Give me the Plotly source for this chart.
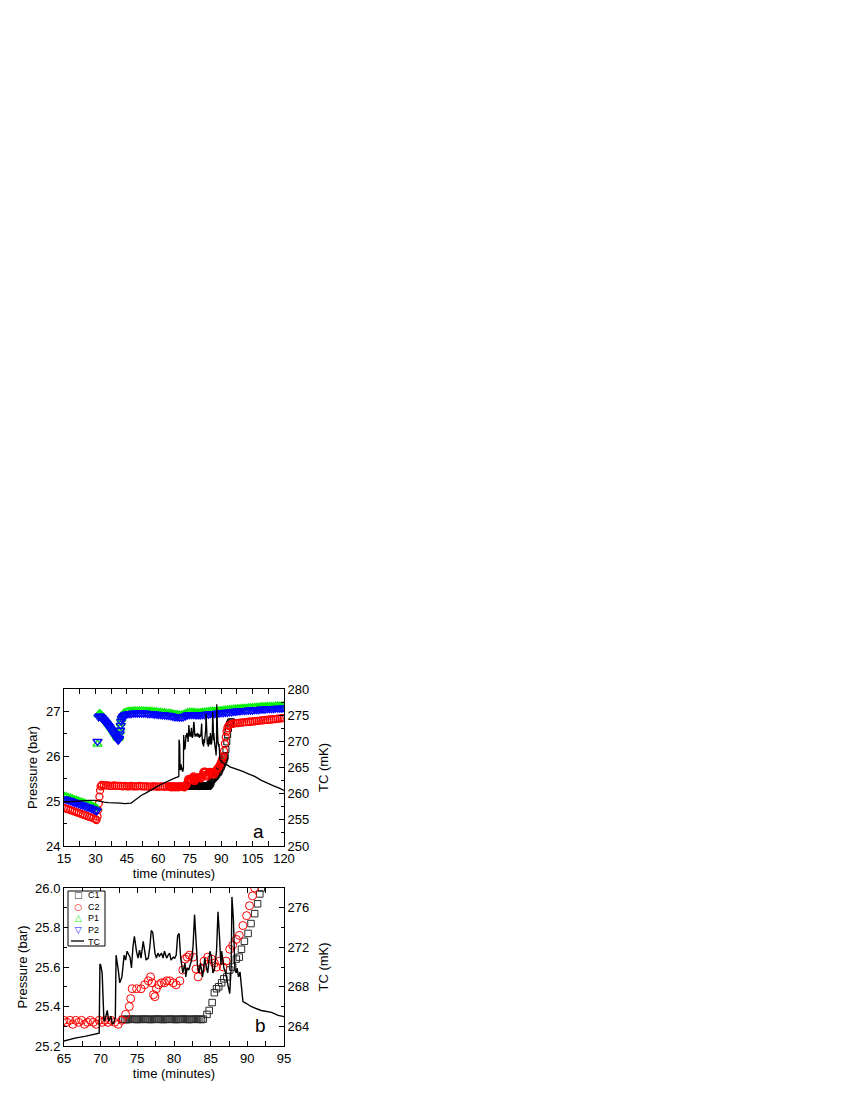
import plotly.graph_objects as go

# ---- data --------------------------------------------------------------------
# pressure in the P1 / P2 cells (bar), shared sampling times (minutes)
TIME_P = [15, 16, 17, 18, 19, 20, 21, 22, 23, 24, 25, 26, 27, 28, 29, 30,
          30.6, 31.0, 31.5, 32, 32.5, 33, 33.5, 34, 34.5, 35, 35.5, 36, 36.5, 37, 37.5, 38, 38.5, 39, 39.5, 40,
          40.4, 40.8, 41.1, 41.3, 41.6, 41.8, 42.1, 42.3, 42.6, 43, 43.5, 44,
          45, 46, 47, 48, 49, 50, 51, 52, 53, 54,
          55, 56, 57, 58, 59, 60, 61, 62, 63, 64,
          65, 66, 67, 68, 69, 70, 71, 72, 73, 74,
          75, 76, 77, 78, 79, 80, 81, 82, 83, 84,
          85, 86, 87, 88, 89, 90, 91, 92, 93, 94,
          95, 96, 97, 98, 99, 100, 101, 102, 103, 104,
          105, 106, 107, 108, 109, 110, 111, 112, 113, 114,
          115, 116, 117, 118, 119, 120]
PRES_P1 = [25.11, 25.10, 25.08, 25.07, 25.05, 25.03, 25.02, 25.00, 24.98, 24.97, 24.95, 24.93, 24.92, 24.90, 24.88, 24.86,
           24.84, 26.27, 26.93, 26.95, 26.93, 26.91, 26.88, 26.86, 26.83, 26.80, 26.77, 26.74, 26.71, 26.68, 26.64, 26.61, 26.58, 26.54, 26.50, 26.47,
           26.43, 26.40, 26.41, 26.45, 26.55, 26.63, 26.74, 26.83, 26.89, 26.93, 26.95, 26.97,
           26.99, 27.00, 27.00, 27.01, 27.01, 27.01, 27.01, 27.01, 27.01, 27.01,
           27.00, 27.00, 27.00, 26.99, 26.99, 26.98, 26.98, 26.97, 26.97, 26.96,
           26.96, 26.95, 26.94, 26.93, 26.93, 26.92, 26.92, 26.93, 26.95, 26.97,
           26.98, 26.98, 26.98, 26.97, 26.97, 26.97, 26.98, 26.98, 26.99, 26.99,
           27.00, 27.00, 27.00, 27.01, 27.01, 27.02, 27.02, 27.03, 27.03, 27.04,
           27.04, 27.05, 27.05, 27.06, 27.06, 27.07, 27.07, 27.07, 27.08, 27.08,
           27.08, 27.09, 27.09, 27.09, 27.10, 27.10, 27.10, 27.11, 27.11, 27.11,
           27.11, 27.12, 27.12, 27.12, 27.12, 27.13]
PRES_P2 = [25.05, 25.04, 25.02, 25.01, 24.99, 24.97, 24.96, 24.94, 24.92, 24.91, 24.89, 24.87, 24.86, 24.84, 24.82, 24.80,
           24.78, 26.33, 26.88, 26.90, 26.88, 26.86, 26.83, 26.81, 26.78, 26.75, 26.72, 26.69, 26.66, 26.63, 26.59, 26.56, 26.52, 26.49, 26.45, 26.42,
           26.39, 26.36, 26.37, 26.40, 26.50, 26.58, 26.69, 26.78, 26.84, 26.88, 26.90, 26.92,
           26.94, 26.95, 26.95, 26.96, 26.96, 26.96, 26.96, 26.96, 26.96, 26.96,
           26.95, 26.95, 26.95, 26.94, 26.94, 26.93, 26.93, 26.92, 26.92, 26.91,
           26.91, 26.90, 26.89, 26.88, 26.88, 26.87, 26.87, 26.88, 26.90, 26.92,
           26.93, 26.93, 26.93, 26.92, 26.92, 26.92, 26.93, 26.93, 26.94, 26.94,
           26.95, 26.95, 26.95, 26.96, 26.96, 26.97, 26.97, 26.98, 26.98, 26.99,
           26.99, 27.00, 27.00, 27.01, 27.01, 27.02, 27.02, 27.02, 27.03, 27.03,
           27.03, 27.04, 27.04, 27.04, 27.05, 27.05, 27.05, 27.06, 27.06, 27.06,
           27.06, 27.07, 27.07, 27.07, 27.07, 27.08]

# C2 cell pressure (bar)
TIME_C2 = [15, 16, 17, 18, 19, 20, 21, 22, 23, 24, 25, 26, 27, 28, 29, 30,
           30.5, 31.0, 31.3, 31.6, 31.9, 32.2, 32.5,
           33, 34, 35, 36, 37, 38, 39, 40, 41, 42, 43, 44, 45, 46, 47, 48,
           49, 50, 51, 52, 53, 54, 55, 56, 57, 58, 59, 60, 61, 62, 63, 64,
           65.0, 65.4, 65.8, 66.2, 66.6, 67.0, 67.4, 67.8, 68.2, 68.6, 69.0, 69.4,
           69.8, 70.2, 70.6, 71.0, 71.4, 71.9, 72.4, 72.9, 73.4, 73.9, 74.1, 74.3,
           74.9, 75.5, 76.0, 76.5, 76.8, 77.0, 77.2, 77.4, 77.6, 77.9, 78.3, 78.7,
           79.0, 79.4, 79.9, 80.3, 80.8, 81.2, 81.5, 81.8, 82.1, 82.6, 83.0, 83.3,
           83.7, 84.1, 84.6, 85.1, 85.5, 85.8, 86.2, 86.7, 87.1, 87.6, 88.0, 88.5,
           88.9, 89.4, 89.9, 90.3, 90.7, 91.0, 91.4, 91.8, 92.2, 92.6, 93.0, 93.5,
           94, 95,
           96, 97, 98, 99, 100, 101, 102, 103, 104, 105, 106, 107, 108, 109, 110,
           111, 112, 113, 114, 115, 116, 117, 118, 119, 120]
PRES_C2 = [24.85, 24.83, 24.82, 24.80, 24.79, 24.77, 24.75, 24.74, 24.72, 24.70, 24.69, 24.67, 24.65, 24.64, 24.62, 24.60,
           24.58, 24.66, 24.80, 24.95, 25.10, 25.24, 25.33,
           25.36, 25.35, 25.35, 25.35, 25.34, 25.34, 25.35, 25.34, 25.34, 25.34, 25.33, 25.34, 25.33, 25.33, 25.34, 25.33,
           25.33, 25.33, 25.34, 25.33, 25.33, 25.33, 25.33, 25.32, 25.33, 25.33, 25.33, 25.32, 25.33, 25.33, 25.32, 25.33,
           25.33, 25.32, 25.33, 25.31, 25.33, 25.32, 25.33, 25.31, 25.32, 25.33, 25.32, 25.31,
           25.33, 25.32, 25.33, 25.32, 25.33, 25.32, 25.31, 25.33, 25.36, 25.40, 25.44, 25.49,
           25.49, 25.49, 25.51, 25.53, 25.55, 25.52, 25.46, 25.45, 25.49, 25.51, 25.52, 25.52,
           25.53, 25.53, 25.52, 25.51, 25.53, 25.585, 25.64, 25.65, 25.66, 25.65, 25.59, 25.55,
           25.59, 25.63, 25.65, 25.64, 25.62, 25.60, 25.63, 25.60, 25.63, 25.69, 25.71, 25.74,
           25.76, 25.81, 25.86, 25.91, 25.96, 26.00, 26.12, 26.28, 26.43, 26.55, 26.63, 26.68,
           26.70, 26.72,
           26.73, 26.74, 26.74, 26.75, 26.75, 26.76, 26.76, 26.77, 26.77, 26.78, 26.78, 26.79, 26.79, 26.80, 26.80,
           26.81, 26.81, 26.82, 26.82, 26.83, 26.83, 26.84, 26.84, 26.85, 26.85]

# C1 cell pressure (bar)
TIME_C1 = [73.0, 73.25, 73.5, 73.75, 74.0, 74.25, 74.5, 74.75, 75.0, 75.25, 75.5, 75.75,
           76.0, 76.25, 76.5, 76.75, 77.0, 77.25, 77.5, 77.75, 78.0, 78.25, 78.5, 78.75,
           79.0, 79.25, 79.5, 79.75, 80.0, 80.25, 80.5, 80.75, 81.0, 81.25, 81.5, 81.75,
           82.0, 82.25, 82.5, 82.75, 83.0, 83.25, 83.5, 83.75, 84.0,
           84.5, 84.8, 85.2, 85.5, 85.8, 86.1, 86.5, 86.8, 87.2, 87.6, 88.0, 88.5,
           88.9, 89.2, 89.6, 90.1, 90.5, 91.0, 91.4, 91.7, 91.9, 92.3, 92.7, 93.1,
           93.5, 94.0, 94.5, 95.0]
PRES_C1 = [25.335, 25.335, 25.333, 25.335, 25.335, 25.336, 25.335, 25.335, 25.334, 25.335, 25.335, 25.335,
           25.336, 25.335, 25.335, 25.334, 25.335, 25.335, 25.335, 25.336, 25.335, 25.335, 25.334, 25.335,
           25.335, 25.335, 25.336, 25.335, 25.335, 25.334, 25.335, 25.335, 25.335, 25.336, 25.335, 25.335,
           25.334, 25.335, 25.335, 25.335, 25.336, 25.335, 25.335, 25.334, 25.336,
           25.36, 25.38, 25.42, 25.47, 25.49, 25.50, 25.52, 25.54, 25.55, 25.585, 25.60, 25.64,
           25.65, 25.69, 25.73, 25.77, 25.82, 25.87, 25.92, 25.97, 26.00, 26.15, 26.32, 26.48,
           26.62, 26.72, 26.76, 26.77]

# TC temperature (mK)
TIME_TC = [15, 18, 21, 24, 27, 30, 32, 34, 36, 38, 40, 42, 44, 46, 47, 48, 50, 52, 54, 56,
           58, 60, 62, 64,
           65.0, 66.5, 68.0, 69.5, 69.8, 69.9, 70.0, 70.2, 70.45, 70.6, 70.9, 71.1, 71.4, 71.6,
           71.8, 72.0, 72.1, 72.4, 72.6, 72.9, 73.2, 73.4, 73.6, 74.0, 74.2, 74.4, 74.6, 74.9,
           75.1, 75.3, 75.5, 75.8, 76.0, 76.2, 76.5, 76.7, 76.9, 77.1, 77.4, 77.6, 77.8, 78.0,
           78.3, 78.5, 78.7, 79.0, 79.2, 79.4, 79.6, 79.9, 80.1, 80.3, 80.5, 80.7, 80.9, 81.2,
           81.5, 81.6, 81.8, 82.0, 82.4, 82.6, 82.8, 83.0, 83.2, 83.4, 83.6, 83.9, 84.2, 84.4,
           84.6, 84.9, 85.1, 85.3, 85.5, 85.8, 86.0, 86.2, 86.4, 86.5, 86.8, 87.0, 87.2, 87.5,
           87.6, 87.8, 87.9, 88.1, 88.3, 88.5, 88.6, 88.8, 89.0, 89.2, 89.4, 89.9, 90.5, 91.9,
           93.3, 94.2, 95.0,
           97, 100, 103, 106, 109, 112, 115, 118, 120]
TEMP_TC = [258.4, 258.5, 258.6, 258.6, 258.7, 258.7, 258.5, 258.4, 258.3, 258.3, 258.2, 258.2, 258.1, 258.1, 258.2, 258.5, 259.1, 259.7, 260.1, 260.6,
           261.0, 261.5, 261.9, 262.3,
           262.5, 262.8, 263.0, 263.2, 263.3, 270.3, 270.2, 269.4, 264.5, 264.7, 265.6, 264.5, 265.0, 264.2,
           264.4, 264.9, 271.2, 269.7, 268.4, 269.0, 271.2, 270.7, 271.6, 271.0, 269.9, 272.0, 273.1, 271.5,
           270.9, 271.7, 270.9, 272.6, 271.7, 270.7, 270.9, 272.0, 273.7, 273.5, 271.4, 270.9, 271.4, 271.1,
           271.4, 270.9, 271.6, 270.9, 271.2, 271.4, 270.7, 271.0, 270.9, 271.2, 273.2, 273.4, 271.0, 269.4,
           270.4, 269.0, 269.9, 269.7, 270.7, 272.1, 275.3, 273.1, 270.2, 269.4, 270.4, 269.0, 270.9, 270.0,
           269.4, 271.6, 271.0, 269.4, 269.7, 271.6, 275.6, 273.1, 270.2, 271.6, 269.9, 269.5, 268.7, 267.8,
           267.3, 270.1, 277.1, 274.8, 269.7, 269.4, 269.9, 269.0, 269.5, 268.0, 266.5, 266.3, 266.0, 265.6,
           265.4, 265.1, 265.0,
           264.7, 264.3, 263.8, 263.3, 262.6, 262.0, 261.5, 261.0, 260.6]

LEGEND_NAMES = ['C1', 'C2', 'P1', 'P2', 'TC']

FONT = 'Liberation Sans, Arial, sans-serif'
GREEN = '#00ee00'
GREY = '#2a2a2a'


def marker(symbol, color, size=7, width=1):
    return dict(symbol=symbol, size=size, color=color, line=dict(color=color, width=width))


fig = go.Figure()

# panel a
fig.add_trace(go.Scatter(x=TIME_C1, y=PRES_C1, mode='markers', marker=marker('square-open', 'black', 6),
                         xaxis='x', yaxis='y'))
fig.add_trace(go.Scatter(x=TIME_C2, y=PRES_C2, mode='markers', marker=marker('circle-open', 'red', 7, 1.3),
                         xaxis='x', yaxis='y'))
fig.add_trace(go.Scatter(x=TIME_P, y=PRES_P1, mode='markers', marker=marker('triangle-up-open', GREEN, 8, 1.3),
                         xaxis='x', yaxis='y'))
fig.add_trace(go.Scatter(x=TIME_P, y=PRES_P2, mode='markers', marker=marker('triangle-down-open', 'blue', 8, 1.3),
                         xaxis='x', yaxis='y'))
fig.add_trace(go.Scatter(x=TIME_TC, y=TEMP_TC, mode='lines', line=dict(color='black', width=1.3),
                         xaxis='x', yaxis='y2'))

# panel b
fig.add_trace(go.Scatter(x=TIME_C1, y=PRES_C1, mode='markers', marker=marker('square-open', GREY, 6.5),
                         xaxis='x2', yaxis='y3'))
fig.add_trace(go.Scatter(x=TIME_C2, y=PRES_C2, mode='markers', marker=marker('circle-open', 'red', 8),
                         xaxis='x2', yaxis='y3'))
fig.add_trace(go.Scatter(x=TIME_TC, y=TEMP_TC, mode='lines', line=dict(color='black', width=1.4),
                         xaxis='x2', yaxis='y4'))

axis_common = dict(
    showline=True, linecolor='black', linewidth=1,
    ticks='inside', ticklen=5, tickcolor='black', tickwidth=1,
    showgrid=False, zeroline=False,
    tickfont=dict(family=FONT, size=13, color='black'),
    title_font=dict(family=FONT, size=13, color='black'),
)

# the page body adds an 8px offset, so the margins are shifted by that amount
TOP_A = 1.0
BOT_A = (1046 - 846) / 357
TOP_B = (1046 - 888) / 357

fig.update_layout(
    width=850, height=1100,
    margin=dict(l=56, r=574, t=681, b=62),
    paper_bgcolor='white', plot_bgcolor='white',
    showlegend=False,
    font=dict(family=FONT, size=13, color='black'),
    xaxis=dict(axis_common, domain=[0, 1], anchor='y', range=[15, 120], tick0=15, dtick=15,
               mirror='allticks', minor=dict(ticks='inside', ticklen=3, dtick=7.5, tick0=15, tickcolor='black'),
               title=dict(text='time (minutes)', standoff=0)),
    yaxis=dict(axis_common, domain=[BOT_A, TOP_A], anchor='x', range=[24, 27.5], tick0=24, dtick=1,
               minor=dict(ticks='inside', ticklen=3, dtick=0.5, tick0=24, tickcolor='black'),
               title=dict(text='Pressure (bar)', standoff=5)),
    yaxis2=dict(axis_common, overlaying='y', side='right', anchor='x', range=[250, 280], tick0=250, dtick=5,
                minor=dict(ticks='inside', ticklen=3, dtick=2.5, tick0=250, tickcolor='black'),
                title=dict(text='TC (mK)', standoff=10)),
    xaxis2=dict(axis_common, domain=[0, 1], anchor='y3', range=[65, 95], tick0=65, dtick=5,
                mirror='allticks', minor=dict(ticks='inside', ticklen=3, dtick=2.5, tick0=65, tickcolor='black'),
                title=dict(text='time (minutes)', standoff=0)),
    yaxis3=dict(axis_common, domain=[0, TOP_B], anchor='x2', range=[25.2, 26.0], tick0=25.2, dtick=0.2,
                tickformat='.1f',
                minor=dict(ticks='inside', ticklen=3, dtick=0.1, tick0=25.2, tickcolor='black'),
                title=dict(text='Pressure (bar)', standoff=4)),
    yaxis4=dict(axis_common, overlaying='y3', side='right', anchor='x2', range=[262, 278], tick0=264, dtick=4,
                minor=dict(ticks='inside', ticklen=3, dtick=2, tick0=262, tickcolor='black'),
                title=dict(text='TC (mK)', standoff=10)),
)


def px_to_paper(xp, yp):
    """screen pixel -> paper fraction of the plot area (x 64..284, y 689..1046)"""
    return (xp - 64) / 220, (1046 - yp) / 357


annotations = []
for label, (lx, ly) in (('a', (258, 831)), ('b', (260, 1025))):
    x, y = px_to_paper(lx, ly)
    annotations.append(dict(x=x, y=y, xref='paper', yref='paper', text=label, showarrow=False,
                            xanchor='center', yanchor='middle',
                            font=dict(family=FONT, size=19, color='black')))

# hand-built legend for panel b (plotly's own legend rows are too tall here)
shapes = []
x0, y0 = px_to_paper(68, 891)
x1, y1 = px_to_paper(105, 946)
shapes.append(dict(type='rect', xref='paper', yref='paper', x0=x0, y0=y0, x1=x1, y1=y1,
                   line=dict(color='black', width=1), fillcolor='white', layer='above'))

tx, ty = px_to_paper(87, 889)
annotations.append(dict(x=tx, y=ty, xref='paper', yref='paper', text='<br>'.join(LEGEND_NAMES),
                        showarrow=False, xanchor='left', yanchor='top', align='left', borderpad=0,
                        font=dict(family=FONT, size=9, color='black')))
glyphs = [('□', GREY), ('○', 'red'), ('△', GREEN), ('▽', 'blue')]
glyph_text = '<br>'.join(f'<span style="color:{c}">{g}</span>' for g, c in glyphs)
gx, gy = px_to_paper(78, 889)
annotations.append(dict(x=gx, y=gy, xref='paper', yref='paper', text=glyph_text,
                        showarrow=False, xanchor='center', yanchor='top', borderpad=0,
                        font=dict(family='DejaVu Sans', size=9, color='black')))
lx0, ly = px_to_paper(71, 941)
lx1, _ = px_to_paper(84, 941)
shapes.append(dict(type='line', xref='paper', yref='paper', x0=lx0, x1=lx1, y0=ly, y1=ly,
                   line=dict(color='black', width=1.3), layer='above'))

fig.update_layout(annotations=annotations, shapes=shapes)

fig.write_html('out.html')
